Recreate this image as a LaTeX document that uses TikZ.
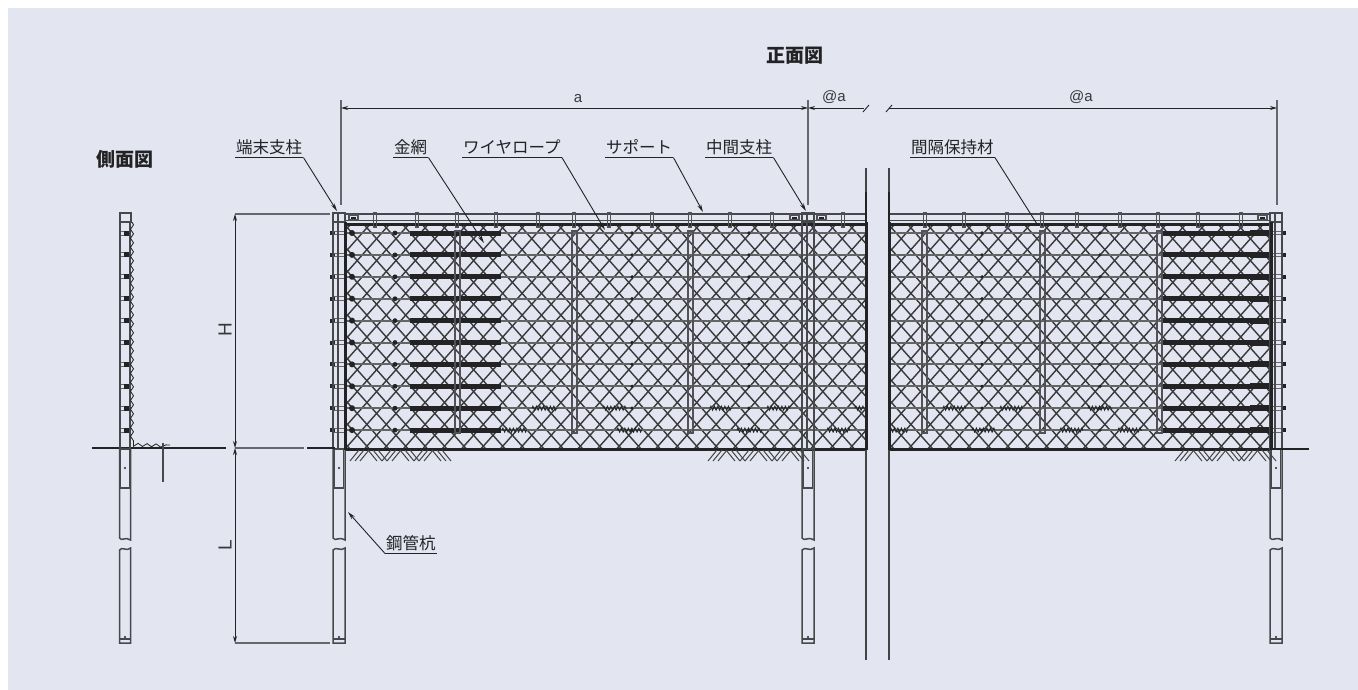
\documentclass[tikz,border=0pt]{standalone}
\usepackage{fontspec}
\setmainfont{Liberation Sans}
\newfontfamily\jpfont{Noto Sans CJK JP}
\usetikzlibrary{arrows.meta,decorations.pathmorphing}
\definecolor{panelbg}{HTML}{E3E6F1}
\definecolor{inkline}{HTML}{232325}
\definecolor{greyline}{HTML}{66676C}
\begin{document}
\begin{tikzpicture}[x=1pt, y=-1pt, line cap=butt,
    title/.style={inner sep=0pt, font=\jpfont\bfseries\fontsize{19}{19}\selectfont, text=inkline},
    partname/.style={anchor=south west, inner xsep=1pt, inner ysep=1.5pt, text height=13.5pt, text depth=2pt, font=\jpfont\fontsize{16.5}{16.5}\selectfont, text=inkline},
    dimtext/.style={inner sep=0pt, font=\fontsize{15}{15}\selectfont, text=inkline!90},
    dimbig/.style={inner sep=0pt, font=\fontsize{19}{19}\selectfont, text=inkline!90},
    leader/.style={draw=inkline, line width=0.9pt, -{Stealth[length=8pt,width=4pt]}},
    under/.style={draw=inkline, line width=1pt},
    dimline/.style={draw=inkline, line width=0.9pt, {Stealth[length=7pt,width=4pt]}-{Stealth[length=7pt,width=4pt]}},
    extline/.style={draw=greyline, line width=1.1pt},
    post/.style={draw=greyline!70!black, line width=1.5pt},
    thinpost/.style={draw=greyline!80!black, line width=1.4pt},
    heavy/.style={draw=inkline, line width=3pt},
    rope/.style={draw=inkline!70, line width=2pt},
    roped/.style={draw=inkline, line width=5pt},
    mesh/.style={draw=inkline!90, line width=1.4pt},
    wig/.style={draw=inkline, line width=0.9pt, decorate, decoration={zigzag, amplitude=2pt, segment length=3.5pt}},
    hatch/.style={draw=inkline!85, line width=1pt}]
  \useasboundingbox (0,0) rectangle (1358,690);
  \fill[white] (0,0) rectangle (1358,690);
  \fill[panelbg] (8,8) rectangle (1358,690);

  % titles
  \node[title] (front) at (795,56) {正面図};
  \node[title] (side) at (125,159) {側面図};

  % mesh, left and right panels
  \begin{scope}
    \clip (345,225) rectangle (866,449);
    \foreach \k in {-11,...,28} {
      \draw[mesh] (345+\k*19.4,225) -- ++(199,224);
      \draw[mesh] (345+\k*19.4,449) -- ++(199,-224);
    }
  \end{scope}
  \begin{scope}
    \clip (889,225) rectangle (1271,449);
    \foreach \k in {-11,...,20} {
      \draw[mesh] (889+\k*19.4,225) -- ++(199,224);
      \draw[mesh] (889+\k*19.4,449) -- ++(199,-224);
    }
  \end{scope}

  % wire ropes
  \foreach \y in {233,254.9,276.8,298.7,320.6,342.5,364.4,386.3,408.2,430.1} {
    \draw[rope] (345,\y) -- (866,\y);
    \draw[rope] (889,\y) -- (1271,\y);
    \draw[roped] (410,\y) -- (501,\y);
    \draw[roped] (1163,\y) -- (1262,\y);
    \draw[draw=inkline, line width=6pt] (1250,\y) -- (1270,\y);
    \fill[inkline] (352,\y) circle (3pt) (395,\y) circle (2.4pt) (632,\y) circle (1.8pt)
      (749,\y) circle (1.8pt) (982,\y) circle (1.8pt) (1100,\y) circle (1.8pt);
    % stubs through end posts
    \draw[draw=inkline, line width=4pt] (330,\y) -- (335,\y);
    \draw[draw=greyline, line width=1pt] (334,\y-1.9) -- (345,\y-1.9) (334,\y+1.9) -- (345,\y+1.9);
    \draw[draw=greyline, line width=1pt] (1271,\y-1.9) -- (1282,\y-1.9) (1271,\y+1.9) -- (1282,\y+1.9);
    \draw[draw=inkline, line width=4pt] (1281,\y) -- (1286,\y);
    % side view
    \draw[draw=greyline, line width=1pt] (119,\y-2) rectangle (124,\y+2);
    \draw[draw=inkline, line width=5pt] (124,\y) -- (131,\y);
  }

  % zigzag parts of the lower ropes
  \foreach \a/\b in {532/557,603/627,710/732,767/790,855/865,943/966,1000/1023,1088/1112}
    \draw[wig] (\a,408.2) -- (\b,408.2);
  \foreach \a/\b in {502/527,617/642,737/762,827/850,890/908,972/995,1060/1083,1118/1142}
    \draw[wig] (\a,430.1) -- (\b,430.1);

  % spacers
  \foreach \x in {455,572,688,922,1040,1157} {
    \draw[thinpost] (\x,231) rectangle (\x+5,433);
  }

  % top rail
  \draw[post] (345,214) -- (866,214) (889,214) -- (1271,214);
  \draw[post] (345,220.5) -- (866,220.5) (889,220.5) -- (1271,220.5);
  \draw[heavy] (345,224) -- (866,224) (889,224) -- (1271,224);
  \draw[heavy] (345,449) -- (866,449) (889,449) -- (1271,449);
  \foreach \x in {375,417,457,496,538,574,609,652,690,730,772,843,925,964,1007,1042,1077,1120,1158,1198,1241} {
    \draw[thinpost] (\x-1.5,213) rectangle (\x+1.5,227);
  }
  \foreach \x in {349,790,817,1258} {
    \draw[thinpost, fill=panelbg] (\x,215) rectangle (\x+9,220);
    \fill[inkline] (\x+2,216.5) rectangle (\x+7,218.5);
  }

  % end and intermediate posts, piles
  \foreach \x in {333,802,1270} {
    \draw[post] (\x,213) -- (\x,449) (\x+5,213) -- (\x+5,449) (\x+12,213) -- (\x+12,449);
    \draw[post] (\x,213) rectangle (\x+12,222);
    \draw[post] (\x+1.5,449) rectangle (\x+10.5,488);
    \draw[post] (\x,449) -- (\x,538) .. controls (\x+3,542) and (\x+5,536) .. (\x+12,540) -- (\x+12,449);
    \draw[post] (\x,550) .. controls (\x+3,546) and (\x+8,552) .. (\x+12,548) -- (\x+12,643) -- (\x,643) -- cycle;
    \draw[post] (\x,639) -- (\x+12,639);
    \fill[inkline] (\x+6,468) circle (1.2pt) (\x+6,637) circle (1.2pt);
  }
  \draw[heavy] (345,222) -- (345,450);
  \draw[heavy] (1271,222) -- (1271,450);

  % panel break
  \draw[draw=inkline!85, line width=1.2pt] (866,168) -- (866,660);
  \draw[draw=inkline!85, line width=1.2pt] (889,168) -- (889,660);
  \draw[draw=inkline, line width=1.8pt] (866,192) -- (866,222) (889,192) -- (889,222);
  \draw[heavy] (866,222) -- (866,450) (889,222) -- (889,450);

  % ground
  \draw[draw=inkline, line width=1.1pt] (92,448) -- (226,448);
  \draw[draw=inkline, line width=1.1pt] (307,448) -- (335,448);
  \draw[draw=inkline, line width=1.1pt] (1270,449) -- (1309,449);
  \foreach \g in {350,708,1175} {
    \foreach \s in {0,32,64} {
      \foreach \t in {0,5,10} {
        \draw[hatch] (\g+\s+\t,461) -- ++(9,-11);
        \draw[hatch] (\g+\s+18+\t,450) -- ++(9,11);
      }
    }
  }

  % side view
  \draw[post] (120,213) rectangle (131,222);
  \draw[post] (120,222) -- (120,449) (130,222) -- (130,449);
  \draw[draw=inkline, line width=0.8pt, decorate, decoration={snake, amplitude=1.5pt, segment length=9pt}]
    (132,222) -- (132,438) -- (136,444) -- (170,445);
  \draw[post] (163,443) -- (163,482);
  \draw[post] (120,449) rectangle (130,488);
  \draw[post] (119.5,449) -- (119.5,538) .. controls (122,542) and (125,536) .. (130.5,540) -- (130.5,449);
  \draw[post] (119.5,550) .. controls (122,546) and (127,552) .. (130.5,548) -- (130.5,643) -- (119.5,643) -- cycle;
  \draw[post] (119.5,639) -- (130.5,639);
  \fill[inkline] (125,468) circle (1.2pt) (125,637) circle (1.2pt);

  % dimensions, vertical
  \coordinate (hTop) at (235,214);
  \coordinate (hMid) at (235,448);
  \coordinate (hEnd) at (235,643);
  \coordinate (hExtA) at (330,214);
  \coordinate (hExtB) at (304,448);
  \coordinate (hExtC) at (330,643);
  \draw[extline] (hTop) -- (hExtA);
  \draw[extline] (hMid) -- (hExtB);
  \draw[extline] (hEnd) -- (hExtC);
  \draw[dimline] (hTop) -- (hMid);
  \draw[dimline] (hMid) -- (hEnd);
  \node[dimbig, rotate=90] (dimH) at (225,330) {H};
  \node[dimbig, rotate=90] (dimL) at (225,545) {L};

  % dimensions, horizontal
  \coordinate (aStart) at (341,108);
  \coordinate (aMid) at (808,108);
  \coordinate (aBreakL) at (864,108);
  \coordinate (aBreakR) at (889,108);
  \coordinate (aEnd) at (1277,108);
  \draw[extline] (341,100) -- (341,205);
  \draw[extline] (808,100) -- (808,205);
  \draw[extline] (1277,100) -- (1277,205);
  \draw[dimline] (aStart) -- (aMid);
  \draw[draw=inkline, line width=0.9pt, {Stealth[length=7pt,width=4pt]}-] (aMid) -- (aBreakL);
  \draw[draw=inkline, line width=0.9pt, -{Stealth[length=7pt,width=4pt]}] (aBreakR) -- (aEnd);
  \draw[draw=inkline, line width=0.9pt] (863,112) -- (869,105) (886,112) -- (892,105);
  \node[dimtext] (dimA) at (578,99) {a};
  \node[dimtext] (dimAtA) at (834,97) {@a};
  \node[dimtext] (dimAtB) at (1081,97) {@a};

  % part names
  \node[partname] (endpost) at (235,157.5) {端末支柱};
  \node[partname] (net) at (393,157.5) {金網};
  \node[partname] (wire) at (462,157.5) {ワイヤロープ};
  \node[partname] (support) at (605,157.5) {サポート};
  \node[partname] (midpost) at (705,157.5) {中間支柱};
  \node[partname] (spacer) at (910,157.5) {間隔保持材};
  \node[partname] (pile) at (385,553.5) {鋼管杭};

  \coordinate (endpostTip) at (337,211);
  \coordinate (netTip) at (484,243);
  \coordinate (wireTip) at (605,230);
  \coordinate (supportTip) at (703,212);
  \coordinate (midpostTip) at (806,211);
  \coordinate (spacerTip) at (1037,224);
  \coordinate (pileTip) at (348,512);

  \draw[under] (endpost.south west) -- (endpost.south east);
  \draw[under] (net.south west) -- (net.south east);
  \draw[under] (wire.south west) -- (wire.south east);
  \draw[under] (support.south west) -- (support.south east);
  \draw[under] (midpost.south west) -- (midpost.south east);
  \draw[under] (spacer.south west) -- (spacer.south east);
  \draw[under] (pile.south west) -- (pile.south east);

  \draw[leader] (endpost.south east) -- (endpostTip);
  \draw[leader] (net.south east) -- (netTip);
  \draw[leader] (wire.south east) -- (wireTip);
  \draw[leader] (support.south east) -- (supportTip);
  \draw[leader] (midpost.south east) -- (midpostTip);
  \draw[leader, -] (spacer.south east) -- (spacerTip);
  \draw[leader] (pile.south west) -- (pileTip);
\end{tikzpicture}
\end{document}
